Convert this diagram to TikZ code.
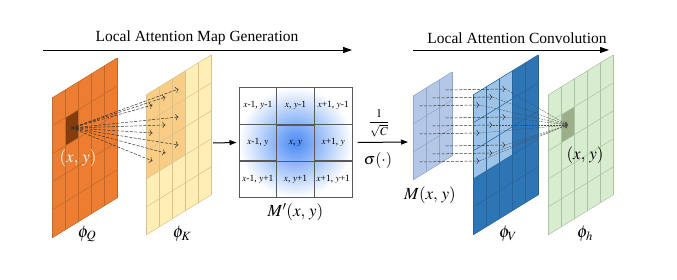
\documentclass[tikz,border=0pt]{standalone}
\usepackage{mathptmx}
\usepackage{fontspec}
\setmainfont{Liberation Serif}
\usepackage{tikz}
\usetikzlibrary{matrix, positioning, arrows.meta}
\definecolor{qorange}{HTML}{ED7D31}
\definecolor{qdark}{HTML}{843C0C}
\definecolor{qline}{HTML}{C0692E}
\definecolor{kyellow}{HTML}{FFEFB5}
\definecolor{khigh}{HTML}{F9CD85}
\definecolor{kline}{HTML}{D6C28E}
\definecolor{mapblue}{HTML}{4A8AF4}
\definecolor{mlight}{HTML}{B4C7E7}
\definecolor{mline}{HTML}{8EA5CC}
\definecolor{vdark}{HTML}{2E75B6}
\definecolor{vlight}{HTML}{9DC3E6}
\definecolor{vline}{HTML}{2A639C}
\definecolor{hgreen}{HTML}{D8ECCF}
\definecolor{hdark}{HTML}{9DAF8A}
\definecolor{hline}{HTML}{ABC3A0}
% slanted cells: #1,#2 lower corner, #3,#4 upper corner
\newcommand{\cellfill}[5]{%
  \fill[#5] (#1,#2) -- (#3,#2) -- (#3,#4) -- (#1,#4) -- cycle;}
\newcommand{\cellgrid}[3]{%
  \foreach \i in {0,...,#1} \draw[#3, line width=0.5pt] (\i,0) -- (\i,#2);
  \foreach \j in {0,...,#2} \draw[#3, line width=0.5pt] (0,\j) -- (#1,\j);}

\begin{document}
\begin{tikzpicture}[x=1pt, y=1pt,
    featframe/.style={x={(13pt,8pt)}, y={(0pt,28pt)}},
    flow/.style={line width=1pt, -{Triangle[length=7pt, width=5pt]}},
    attn/.style={dash pattern=on 3pt off 1.5pt, line width=0.5pt, black!80, -{To[length=3pt]}},
    focus/.style={dash pattern=on 2pt off 1pt, line width=0.3pt, black!70, -{To[length=2.5pt]}},
    lbl/.style={font=\fontsize{17}{19}\selectfont},
    title/.style={font=\fontsize{15.5}{18}\selectfont}]
  \useasboundingbox (0,0) rectangle (677,279);

  % titles
  \node[title] (t1) at (197,241) {Local Attention Map Generation};
  \node[title] (t2) at (517,241) {Local Attention Convolution};
  \coordinate (t1s) at (43,229); \coordinate (t1e) at (352,229);
  \coordinate (t2s) at (413,229); \coordinate (t2e) at (609,229);
  \draw[line width=0.9pt, -{Triangle[length=9pt, width=6pt]}] (t1s) -- (t1e);
  \draw[line width=0.9pt, -{Triangle[length=9pt, width=6pt]}] (t2s) -- (t2e);

  % phi_Q
  \begin{scope}[shift={(52,41)}, featframe]
    \cellfill{0}{0}{5}{5}{qorange}
    \cellfill{1}{3}{2}{4}{qdark}
    \cellgrid{5}{5}{qline}
    \coordinate (q) at (1.5,3.5);
  \end{scope}
  % phi_K
  \begin{scope}[shift={(146,44)}, featframe]
    \cellfill{0}{0}{5}{5}{kyellow}
    \cellfill{0}{2}{3}{5}{khigh}
    \cellgrid{5}{5}{kline}
    \foreach \i in {0,1,2} \foreach \j in {2,3,4}
      \coordinate (k\i\j) at (\i+.5,\j+.5);
  \end{scope}
  \foreach \i in {0,1,2} \foreach \j in {2,3,4}
    \draw[attn] (q) -- (k\i\j);
  \node[lbl, text=white] (qxy) at (78,121) {$(x,\,y)$};
  \node[lbl] (phiq) at (87,45) {$\phi_Q$};
  \node[lbl] (phik) at (182,45) {$\phi_K$};

  % local attention map
  \matrix (mp) at (295.5,136.5) [matrix of nodes, inner sep=0pt,
      column sep=-0.5pt, row sep=-0.5pt,
      shading=radial, inner color=mapblue, outer color=white,
      nodes={draw=black!65, line width=0.5pt, minimum width=37.7pt,
        minimum height=36.3pt, inner sep=0pt,
        font=\fontsize{9.5}{10}\selectfont}] {
    $x$-1, $y$-1 & $x$, $y$-1 & $x$+1, $y$-1 \\
    $x$-1, $y$ & $x$, $y$ & $x$+1, $y$ \\
    $x$-1, $y$+1 & $x$, $y$+1 & $x$+1, $y$+1 \\
  };
  \node[lbl, below=2pt of mp] (mpxy) {$M'(x,\,y)$};
  \coordinate (kout) at (213,136);
  \draw[flow] (kout) -- ([xshift=-2pt]mp.west);
  \coordinate (min) at (408,137);
  \draw[flow] ([xshift=5pt]mp.east) -- (min);
  \node[font=\fontsize{12}{14}\selectfont] (scl) at (379,156) {$\displaystyle\frac{1}{\sqrt{C}}$};
  \node[font=\fontsize{16}{18}\selectfont] (sig) at (378,119) {$\sigma(\cdot)$};

  % M(x,y)
  \begin{scope}[shift={(413,99)}, featframe]
    \cellfill{0}{0}{3}{3}{mlight}
    \cellgrid{3}{3}{mline}
    \foreach \i in {0,1,2} \foreach \j in {0,1,2}
      \coordinate (m\i\j) at (\i+.5,\j+.5);
  \end{scope}
  \node[lbl] (mxy) at (430,84) {$M(x,\,y)$};
  % phi_V
  \begin{scope}[shift={(473,44)}, featframe]
    \cellfill{0}{0}{5}{5}{vdark}
    \cellfill{0}{2}{3}{5}{vlight}
    \cellgrid{5}{5}{vline}
    \foreach \i in {0,1,2} \foreach \j in {0,1,2}
      \coordinate (v\i\j) at (\i+.5,\j+2.5);
  \end{scope}
  \node[lbl] (phiv) at (508,45) {$\phi_V$};
  % phi_h
  \begin{scope}[shift={(548,44)}, featframe]
    \cellfill{0}{0}{5}{5}{hgreen}
    \cellfill{1}{3}{2}{4}{hdark}
    \cellgrid{5}{5}{hline}
    \coordinate (h) at (1.5,3.5);
  \end{scope}
  \node[lbl] (hxy) at (585,124) {$(x,\,y)$};
  \node[lbl] (phih) at (585,45) {$\phi_h$};
  \foreach \i in {0,1,2} \foreach \j in {0,1,2} {
    \draw[attn] (m\i\j) -- (v\i\j);
    \draw[focus] (v\i\j) -- (h);
  }
\end{tikzpicture}
\end{document}
